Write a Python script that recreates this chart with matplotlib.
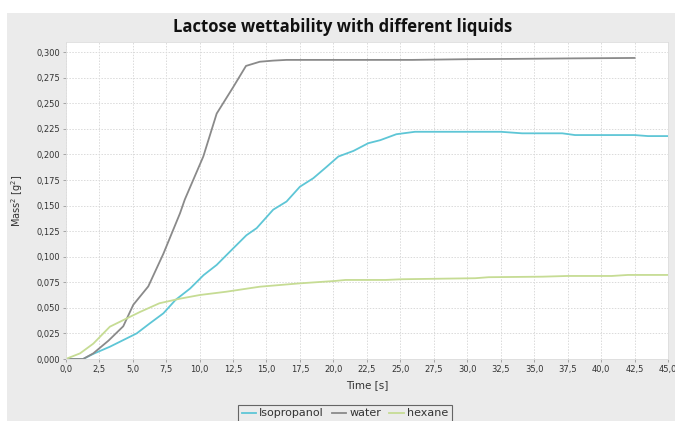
import matplotlib
matplotlib.use("Agg")
import matplotlib.pyplot as plt
from matplotlib.patches import Rectangle
from matplotlib.ticker import FuncFormatter, MultipleLocator

# Data
water_t = [0.0, 1.3, 2.06, 3.2, 4.3, 5.05, 6.17, 7.3, 8.54, 8.9, 10.28, 11.28, 12.52, 13.47, 14.5, 15.5, 16.5, 20.0, 25.9, 30.0, 33.6, 38.0, 42.5]
water_v = [0.0, 0.0, 0.0055, 0.018, 0.032, 0.053, 0.071, 0.103, 0.1425, 0.156, 0.198, 0.240, 0.266, 0.2866, 0.2907, 0.2918, 0.2925, 0.2925, 0.2925, 0.2932, 0.2935, 0.2940, 0.2944]

iso_t = [0.0, 1.3, 2.06, 3.3, 5.3, 6.3, 7.3, 8.2, 9.3, 10.3, 11.28, 12.5, 13.5, 14.27, 15.5, 16.5, 17.5, 18.5, 19.5, 20.37, 21.5, 22.6, 23.5, 24.7, 26.1, 29.5, 32.5, 34.1, 37.1, 38.05, 42.5, 43.5, 45.0]
iso_v = [0.0, 0.0, 0.005, 0.012, 0.025, 0.035, 0.0447, 0.0577, 0.069, 0.082, 0.092, 0.108, 0.121, 0.128, 0.146, 0.154, 0.1685, 0.1768, 0.188, 0.198, 0.2035, 0.211, 0.214, 0.2198, 0.2222, 0.2222, 0.2222, 0.2207, 0.2207, 0.219, 0.219, 0.218, 0.218]

hex_t = [0.0, 1.07, 2.06, 3.3, 4.3, 5.55, 7.0, 8.54, 10.03, 12.0, 14.5, 17.5, 20.1, 20.9, 23.9, 25.1, 30.6, 31.6, 35.6, 37.5, 40.8, 42.0, 45.0]
hex_v = [0.0, 0.0055, 0.015, 0.0316, 0.038, 0.046, 0.0545, 0.059, 0.0626, 0.0658, 0.0707, 0.074, 0.0763, 0.0773, 0.0773, 0.078, 0.079, 0.080, 0.0805, 0.0812, 0.0812, 0.0822, 0.0822]

series_names = ["Isopropanol", "water", "hexane"]
title = "Lactose wettability with different liquids"

BG = "#ebebeb"
fig = plt.figure(figsize=(6.75, 4.21), dpi=100)
fig.patch.set_facecolor("white")
fig.add_artist(Rectangle((7 / 675, 0), 1, 1 - 13 / 421, transform=fig.transFigure,
                         facecolor=BG, edgecolor="none", zorder=-10))

ax = fig.add_axes([65.7 / 675, 1 - 359 / 421, (668 - 65.7) / 675, (359 - 42) / 421])
ax.set_facecolor("white")

ax.plot(iso_t, iso_v, color="#5ec6d6", lw=1.3, label=series_names[0])
ax.plot(water_t, water_v, color="#8a8a8a", lw=1.3, label=series_names[1])
ax.plot(hex_t, hex_v, color="#c6dc94", lw=1.3, label=series_names[2])

ax.set_xlim(0, 45)
ax.set_ylim(0, 0.310)
ax.xaxis.set_major_locator(MultipleLocator(2.5))
ax.yaxis.set_major_locator(MultipleLocator(0.025))
ax.xaxis.set_major_formatter(FuncFormatter(lambda v, p: f"{v:.1f}".replace(".", ",")))
ax.yaxis.set_major_formatter(FuncFormatter(lambda v, p: f"{v:.3f}".replace(".", ",")))
ax.tick_params(labelsize=6, length=2, width=0.6, color="#999999", labelcolor="#333333", pad=2)
ax.grid(True, color="#dadada", linestyle=(0, (1.5, 1.5)), linewidth=0.7)
ax.set_axisbelow(True)
for s in ax.spines.values():
    s.set_color("#dddddd")
    s.set_linewidth(0.6)

ax.set_xlabel("Time [s]", fontsize=7.5, color="#333333", labelpad=5)
ax.set_ylabel("Mass$^2$ [g$^2$]", fontsize=7, color="#333333", labelpad=8)

fig.text(0.507, 1 - 27 / 421, title, ha="center", va="center",
         fontsize=12, fontweight="bold", family="Open Sans", color="#111111")

leg = fig.legend(loc="upper center", bbox_to_anchor=(0.511, 1 - 399 / 421), ncol=3,
                 fontsize=8, frameon=True, fancybox=False, handlelength=1.3,
                 handletextpad=0.3, columnspacing=0.7, borderpad=0.35)
leg.get_frame().set_edgecolor("#444444")
leg.get_frame().set_facecolor(BG)
leg.get_frame().set_linewidth(0.8)
for t in leg.get_texts():
    t.set_color("#333333")

fig.savefig("out.png", dpi=100, facecolor=fig.get_facecolor())
